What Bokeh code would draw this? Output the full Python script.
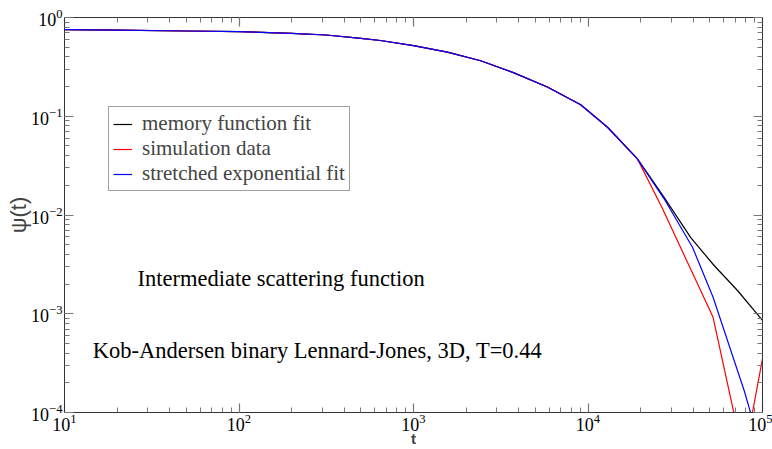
import math
from bokeh.plotting import figure
from bokeh.models import (LogAxis, LogTicker, Legend, LegendItem, Label,
                          CustomJSTickFormatter, Range1d)
from bokeh.embed import file_html
from bokeh.resources import INLINE

# ---------------- data ----------------
t_early = [10, 20, 50, 100, 200, 316, 500, 646, 1000, 1563, 2427, 3767, 5848, 9080, 12940, 19190]
psi_early = [0.755, 0.745, 0.73, 0.72, 0.69, 0.665, 0.615, 0.585, 0.52, 0.446, 0.365,
             0.275, 0.198, 0.131, 0.0774, 0.037]

t_memory_tail = [23440, 27300, 38800, 52800, 71900, 100000]
psi_memory_tail = [0.0223, 0.0151, 0.0059, 0.00308, 0.00172, 0.000855]

t_sim_tail = [26500, 52100, 78200, 104000]
psi_sim_tail = [0.0120, 0.00092, 0.000034, 0.00051]

t_stretch_tail = [27300, 39700, 52100, 78500, 104000]
psi_stretch_tail = [0.01459, 0.00472, 0.00147, 0.000167, 0.00003]

series_names = ["memory function fit", "simulation data", "stretched exponential fit"]
series_colors = ["#000000", "#ff0000", "#0000ff"]

# ---------------- figure ----------------
p = figure(width=772, height=449, x_axis_type="log", y_axis_type="log",
           x_range=Range1d(10, 1e5), y_range=Range1d(1e-4, 1),
           output_backend="svg", toolbar_location=None,
           min_border_left=64, min_border_right=10, min_border_top=17, min_border_bottom=37)
p.grid.visible = False
p.outline_line_color = "#333333"
p.background_fill_color = "white"
p.border_fill_color = "white"

bottom_axis = p.below[0]
left_axis = p.left[0]

blank = CustomJSTickFormatter(code="return ''")
top_axis = LogAxis(ticker=LogTicker(num_minor_ticks=10), formatter=blank)
right_axis = LogAxis(ticker=LogTicker(num_minor_ticks=10), formatter=blank)
p.add_layout(top_axis, "above")
p.add_layout(right_axis, "right")
bottom_axis.ticker = LogTicker(num_minor_ticks=10)
left_axis.ticker = LogTicker(num_minor_ticks=10)

for ax in [bottom_axis, left_axis, top_axis, right_axis]:
    ax.major_tick_in = 9
    ax.major_tick_out = 0
    ax.minor_tick_in = 5
    ax.minor_tick_out = 0
    ax.major_tick_line_color = "#777777"
    ax.minor_tick_line_color = "#777777"
    ax.major_tick_line_width = 1.2
    ax.axis_line_color = "#333333"
    ax.major_label_text_font = "Liberation Serif"
    ax.major_label_text_font_size = "18px"
    ax.major_label_text_color = "black"

top_axis.major_label_standoff = 0
right_axis.major_label_standoff = 0

bottom_axis.major_label_standoff = 1
bottom_axis.axis_label = "t"
bottom_axis.axis_label_text_font = "Liberation Sans"
bottom_axis.axis_label_text_font_size = "15px"
bottom_axis.axis_label_text_font_style = "bold"
bottom_axis.axis_label_standoff = -4

left_axis.major_label_standoff = 2
left_axis.axis_label = "ψ(t)"
left_axis.axis_label_text_font = "Liberation Sans"
left_axis.axis_label_text_font_size = "22px"
left_axis.axis_label_text_font_style = "normal"
left_axis.axis_label_standoff = -3

# ---------------- curves ----------------
memory_t = t_early + t_memory_tail
memory_psi = psi_early + psi_memory_tail
sim_t = t_early + t_sim_tail
sim_psi = psi_early + psi_sim_tail
stretch_t = t_early + t_stretch_tail
stretch_psi = psi_early + psi_stretch_tail

r_mem = p.line(memory_t, memory_psi, line_color=series_colors[0], line_width=1.2)
r_sim = p.line(sim_t, sim_psi, line_color=series_colors[1], line_width=1.2)
r_str = p.line(stretch_t, stretch_psi, line_color=series_colors[2], line_width=1.2)

legend = Legend(items=[LegendItem(label=n, renderers=[r])
                       for n, r in zip(series_names, [r_mem, r_sim, r_str])],
                location=(44, 221), label_text_font="Liberation Serif",
                label_text_font_size="21px",
                glyph_width=19, glyph_height=20,
                label_height=23, label_standoff=10, spacing=0, padding=4, margin=0,
                border_line_color="#444444", border_line_width=1,
                background_fill_color="white", background_fill_alpha=1)
p.add_layout(legend)

# annotations
serif = "Liberation Serif"
p.add_layout(Label(x=26.2, y=2.27e-3, text="Intermediate scattering function",
                   text_align="left", text_baseline="alphabetic",
                   text_font=serif, text_font_size="22.5px", text_color="black"))
p.add_layout(Label(x=14.5, y=4.25e-4, text="Kob-Andersen binary Lennard-Jones, 3D, T=0.44",
                   text_align="left", text_baseline="alphabetic",
                   text_font=serif, text_font_size="22.5px", text_color="black"))

open("out.html", "w").write(file_html(p, INLINE))
